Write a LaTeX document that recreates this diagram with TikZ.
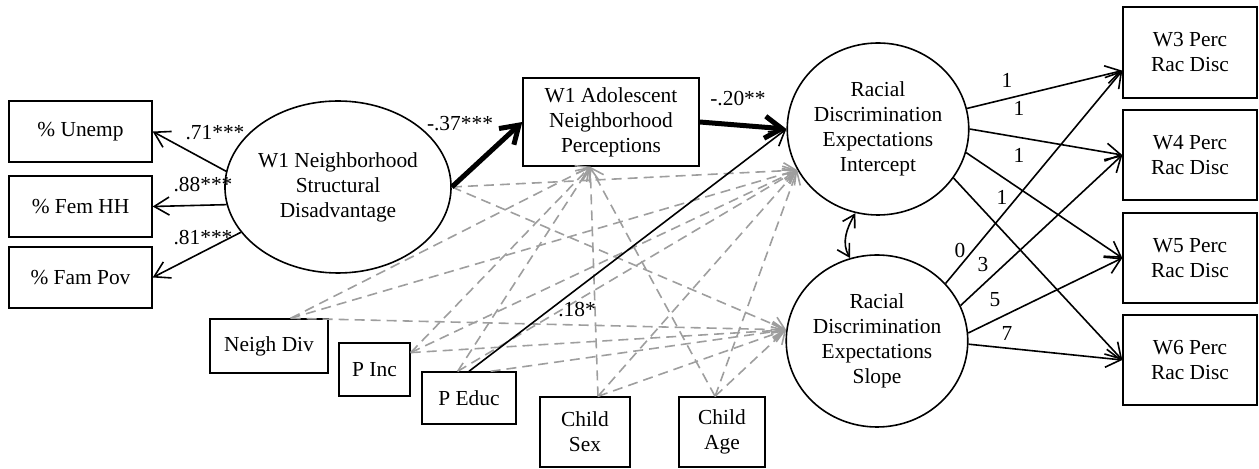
\documentclass[tikz,border=0pt]{standalone}
\usepackage{fontspec}
\setmainfont{Liberation Serif}
\usetikzlibrary{arrows.meta,shapes.geometric}
\definecolor{ctrlgray}{RGB}{158,158,158}
\tikzset{
  varbox/.style={draw, line width=0.7pt, rectangle, inner sep=0pt, align=center},
  latent/.style={draw, line width=0.8pt, ellipse, inner sep=0pt, align=center},
  load/.style={-{Straight Barb[length=7.5pt,width=9pt]}, line width=0.8pt},
  main/.style={-{Straight Barb[length=8.5pt,width=11pt]}, line width=2.5pt},
  ctrl/.style={-{Straight Barb[length=6pt,width=8pt]}, dash pattern=on 5pt off 3pt, line width=0.8pt, ctrlgray},
  coef/.style={inner sep=0pt}
}

\begin{document}
\begin{tikzpicture}[x=0.5pt, y=-0.5pt, font=\fontsize{10.7}{12.5}\selectfont]
            \useasboundingbox (0,0) rectangle (1259,469);
            % coordinates for the nodes
            \node (unemp) at (80.5,131.5) [varbox, minimum width=71.5pt, minimum height=30.5pt]{\% Unemp};
            \node (femhh) at (80.5,206.5) [varbox, minimum width=71.5pt, minimum height=30.5pt]{\% Fem HH};
            \node (fampov) at (80.5,277.5) [varbox, minimum width=71.5pt, minimum height=30.5pt]{\% Fam Pov};
            \node (nsd) at (338,187) [latent, minimum width=99pt, minimum height=86pt]{W1 Neighborhood\\Structural\\Disadvantage};
            \node (perc) at (611,122) [varbox, minimum width=88pt, minimum height=44pt]{W1 Adolescent\\Neighborhood\\Perceptions};
            \node (int) at (878,129) [latent, minimum width=90pt, minimum height=86pt]{Racial\\Discrimination\\Expectations\\Intercept};
            \node (slope) at (877,341) [latent, minimum width=90pt, minimum height=86pt]{Racial\\Discrimination\\Expectations\\Slope};
            \node (w3) at (1190,52.5) [varbox, minimum width=67pt, minimum height=45.5pt]{W3 Perc\\Rac Disc};
            \node (w4) at (1190,155) [varbox, minimum width=67pt, minimum height=45pt]{W4 Perc\\Rac Disc};
            \node (w5) at (1190,258) [varbox, minimum width=67pt, minimum height=45pt]{W5 Perc\\Rac Disc};
            \node (w6) at (1190,360) [varbox, minimum width=67pt, minimum height=45pt]{W6 Perc\\Rac Disc};
            \node (nd) at (269,346) [varbox, minimum width=59pt, minimum height=27pt]{Neigh Div};
            \node (pi) at (374.5,369.5) [varbox, minimum width=35.5pt, minimum height=26.5pt]{P Inc};
            \node (pe) at (469,398) [varbox, minimum width=47pt, minimum height=26pt]{P Educ};
            \node (cs) at (585,432) [varbox, minimum width=45pt, minimum height=35pt]{Child\\Sex};
            \node (ca) at (722,432) [varbox, minimum width=43pt, minimum height=35pt]{Child\\Age};

            % controls (grey dashed)
            \draw[ctrl] (nsd.east) -- (int.207);
            \draw[ctrl] (nsd.east) -- (slope.173);
            \draw[ctrl] (nd.52) -- (perc.245);
            \draw[ctrl] (nd.52) -- (int.207);
            \draw[ctrl] (nd.52) -- (slope.173);
            \draw[ctrl] (pi.25) -- (perc.245);
            \draw[ctrl] (pi.25) -- (int.207);
            \draw[ctrl] (pi.25) -- (slope.173);
            \draw[ctrl] (pe.113) -- (perc.245);
            \draw[ctrl] (pe.113) -- (int.207);
            \draw[ctrl] (pe.51) -- (slope.173);
            \draw[ctrl] (cs.70) -- (perc.245);
            \draw[ctrl] (cs.70) -- (int.207);
            \draw[ctrl] (cs.70) -- (slope.173);
            \draw[ctrl] (ca.101) -- (perc.245);
            \draw[ctrl] (ca.101) -- (int.207);
            \draw[ctrl] (ca.101) -- (slope.173);

            % loadings
            \draw[load] (nsd.172) -- (unemp.east);
            \draw[load] (nsd.189) -- (femhh.east);
            \draw[load] (nsd.205) -- (fampov.east);
            \node[coef] (c71) at (215,133) {.71***};
            \node[coef] (c88) at (203,185) {.88***};
            \node[coef] (c81) at (203,238) {.81***};

            % main paths
            \draw[main] (nsd.east) -- (perc.west);
            \draw[main] (perc.east) -- (int.west);
            \draw[load] (pe.north) -- (int.west);
            \node[coef] (c37) at (460,124) {-.37***};
            \node[coef] (c20) at (738,99) {-.20**};
            \node[coef] (c18) at (577,310) {.18*};

            % growth curve
            \draw[{Straight Barb[length=6pt,width=7pt]}-{Straight Barb[length=6pt,width=7pt]}, line width=0.8pt] (int.255) to[out=240,in=120] (slope.108);
            \draw[load] (int.13) -- (w3.195);
            \draw[load] (int.east) -- (w4.west);
            \draw[load] (int.-15) -- (w5.west);
            \draw[load] (int.-33) -- (w6.west);
            \draw[load] (slope.40) -- (w3.195);
            \draw[load] (slope.23) -- (w4.west);
            \draw[load] (slope.5) -- (w5.west);
            \draw[load] (slope.-2) -- (w6.west);
            \node[coef] (i3) at (1007,80) {1};
            \node[coef] (i4) at (1019,108) {1};
            \node[coef] (i5) at (1019,155) {1};
            \node[coef] (i6) at (1002,197) {1};
            \node[coef] (s3) at (960,250) {0};
            \node[coef] (s4) at (983,265) {3};
            \node[coef] (s5) at (995,300) {5};
            \node[coef] (s6) at (1007,333) {7};
\end{tikzpicture}
\end{document}
